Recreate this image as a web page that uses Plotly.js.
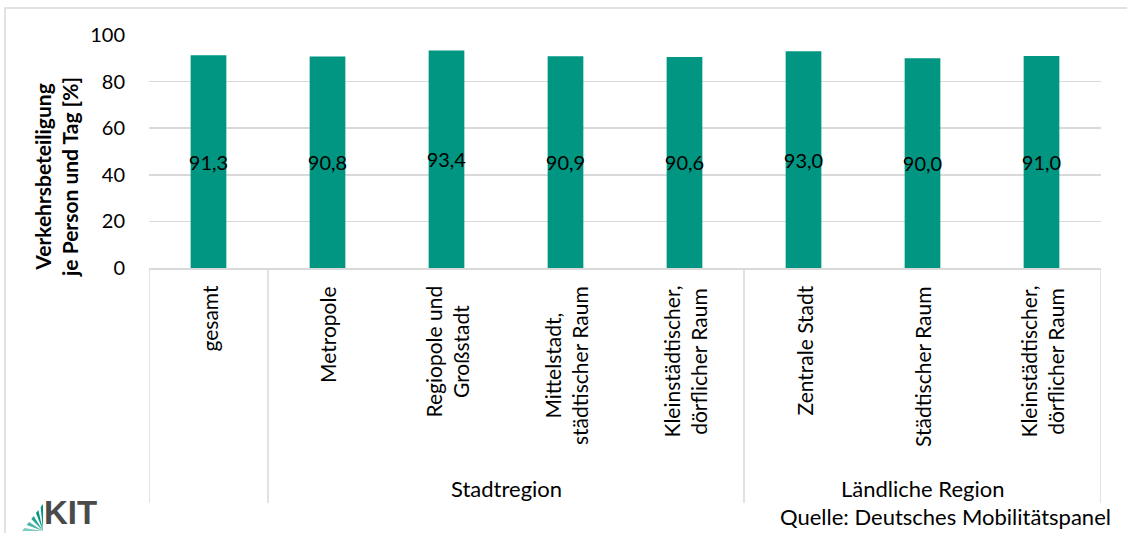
<!DOCTYPE html>
<html>
<head>
<meta charset="utf-8">
<script src="https://cdn.plot.ly/plotly-3.0.1.min.js"></script>
<style>
html,body{margin:0;padding:0;background:#fff;}
#chart{width:1127px;height:533px;}
</style>
</head>
<body>
<div id="chart"></div>
<script>
const categories = ["gesamt", "Metropole", "Regiopole und<br>Großstadt", "Mittelstadt,<br>städtischer Raum", "Kleinstädtischer,<br>dörflicher Raum", "Zentrale Stadt", "Städtischer Raum", "Kleinstädtischer,<br>dörflicher Raum"];
const categoryKeys = ["c0","c1","c2","c3","c4","c5","c6","c7"];
const values = [91.3, 90.8, 93.4, 90.9, 90.6, 93.0, 90.0, 91.0];
const groups = [{label: "Stadtregion", from: 1, to: 4}, {label: "Ländliche Region", from: 5, to: 7}];
const yTicks = [0, 20, 40, 60, 80, 100];

const FONT = "Lato, 'Open Sans', sans-serif";
const W = 1127, H = 533;
const M = {l: 149, r: 26, t: 35, b: 265};
const PW = W - M.l - M.r, PH = H - M.t - M.b;
const px = x => (x - M.l) / PW;
const py = y => (H - M.b - y) / PH;

const annotations = [];
categories.forEach((c, i) => {
  annotations.push({
    x: categoryKeys[i], xref: 'x', y: 0, yref: 'paper', yshift: -16,
    text: c, textangle: -90, showarrow: false, xanchor: 'center', yanchor: 'top',
    align: 'center', font: {family: FONT, size: 21, color: '#000'}
  });
});
groups.forEach(g => {
  annotations.push({
    x: (g.from + g.to) / 2, xref: 'x', y: py(489), yref: 'paper',
    text: g.label, showarrow: false, xanchor: 'center', yanchor: 'middle',
    font: {family: FONT, size: 22, color: '#000'}
  });
});
annotations.push({
  x: px(56), xref: 'paper', y: py(177), yref: 'paper', textangle: -90,
  text: "<b>Verkehrsbeteiligung<br>je Person und Tag [%]</b>", showarrow: false,
  xanchor: 'center', yanchor: 'middle', align: 'center',
  font: {family: FONT, size: 21, color: '#000'}
});
annotations.push({
  x: px(1113), xref: 'paper', y: py(532), yref: 'paper',
  text: "Quelle: Deutsches Mobilitätspanel", showarrow: false,
  xanchor: 'right', yanchor: 'bottom',
  font: {family: FONT, size: 22, color: '#000'}
});
annotations.push({
  x: px(42), xref: 'paper', y: py(533), yref: 'paper',
  text: "<b>KIT</b>", showarrow: false, xanchor: 'left', yanchor: 'bottom',
  font: {family: "'Liberation Sans', Arial, sans-serif", size: 33, color: '#4a4a4a'}
});

const lineStyle = {color: '#d9d9d9', width: 1.5};
const shapes = [];
// Separators of the category axis (group boundaries)
[-0.5, 0.5, 4.5, 7.5].forEach(b => {
  shapes.push({type: 'line', xref: 'x', yref: 'paper', x0: b, x1: b, y0: 0, y1: py(503), line: lineStyle});
});
// chart border
shapes.push({type: 'rect', xref: 'paper', yref: 'paper', x0: px(5), x1: px(1140), y0: py(545), y1: py(8), line: {color: '#d9d9d9', width: 1.5}, layer: 'below'});
// KIT logo fan: wedges from a vertex at lower right towards the hypotenuse
const V = [43, 531], A = [22, 531], B = [43, 504];
const nSeg = 9;
const fanColors = ['#80cbc0', '#4db5a6', '#26a593', '#009682', '#009682'];
for (let k = 0; k < 5; k++) {
  const t0 = (2 * k) / nSeg, t1 = (2 * k + 1) / nSeg;
  const p0 = [A[0] + (B[0] - A[0]) * t0, A[1] + (B[1] - A[1]) * t0];
  const p1 = [A[0] + (B[0] - A[0]) * t1, A[1] + (B[1] - A[1]) * t1];
  const path = 'M' + px(V[0]) + ',' + py(V[1]) + ' L' + px(p0[0]) + ',' + py(p0[1]) + ' L' + px(p1[0]) + ',' + py(p1[1]) + ' Z';
  shapes.push({type: 'path', xref: 'paper', yref: 'paper', path: path, fillcolor: fanColors[k], line: {width: 0}});
}

const trace = {
  type: 'bar', x: categoryKeys, y: values,
  marker: {color: '#009682'},
  width: 0.3,
  texttemplate: '%{y:.1f}', textposition: 'inside', insidetextanchor: 'middle',
  textangle: 0, constraintext: 'none', cliponaxis: false,
  textfont: {family: FONT, size: 20, color: '#000'},
  hoverinfo: 'skip'
};

const layout = {
  width: W, height: H,
  margin: M,
  paper_bgcolor: '#fff', plot_bgcolor: '#fff',
  separators: ',.',
  showlegend: false,
  uniformtext: {minsize: 20, mode: 'show'},
  font: {family: FONT, size: 20, color: '#000'},
  xaxis: {
    type: 'category', range: [-0.5, 7.5], showticklabels: false, ticks: '',
    showgrid: false, showline: true, linecolor: '#d9d9d9', linewidth: 1.5, zeroline: false, fixedrange: true
  },
  yaxis: {
    range: [0, 100], tickvals: yTicks, ticktext: yTicks.map(String), ticks: '',
    ticklabelstandoff: 23,
    showgrid: true, gridcolor: '#d9d9d9', gridwidth: 1.5, showline: false, zeroline: false,
    tickfont: {family: FONT, size: 20, color: '#000'}, fixedrange: true
  },
  annotations: annotations,
  shapes: shapes
};

Plotly.newPlot('chart', [trace], layout, {staticPlot: true, displayModeBar: false});
</script>
</body>
</html>
